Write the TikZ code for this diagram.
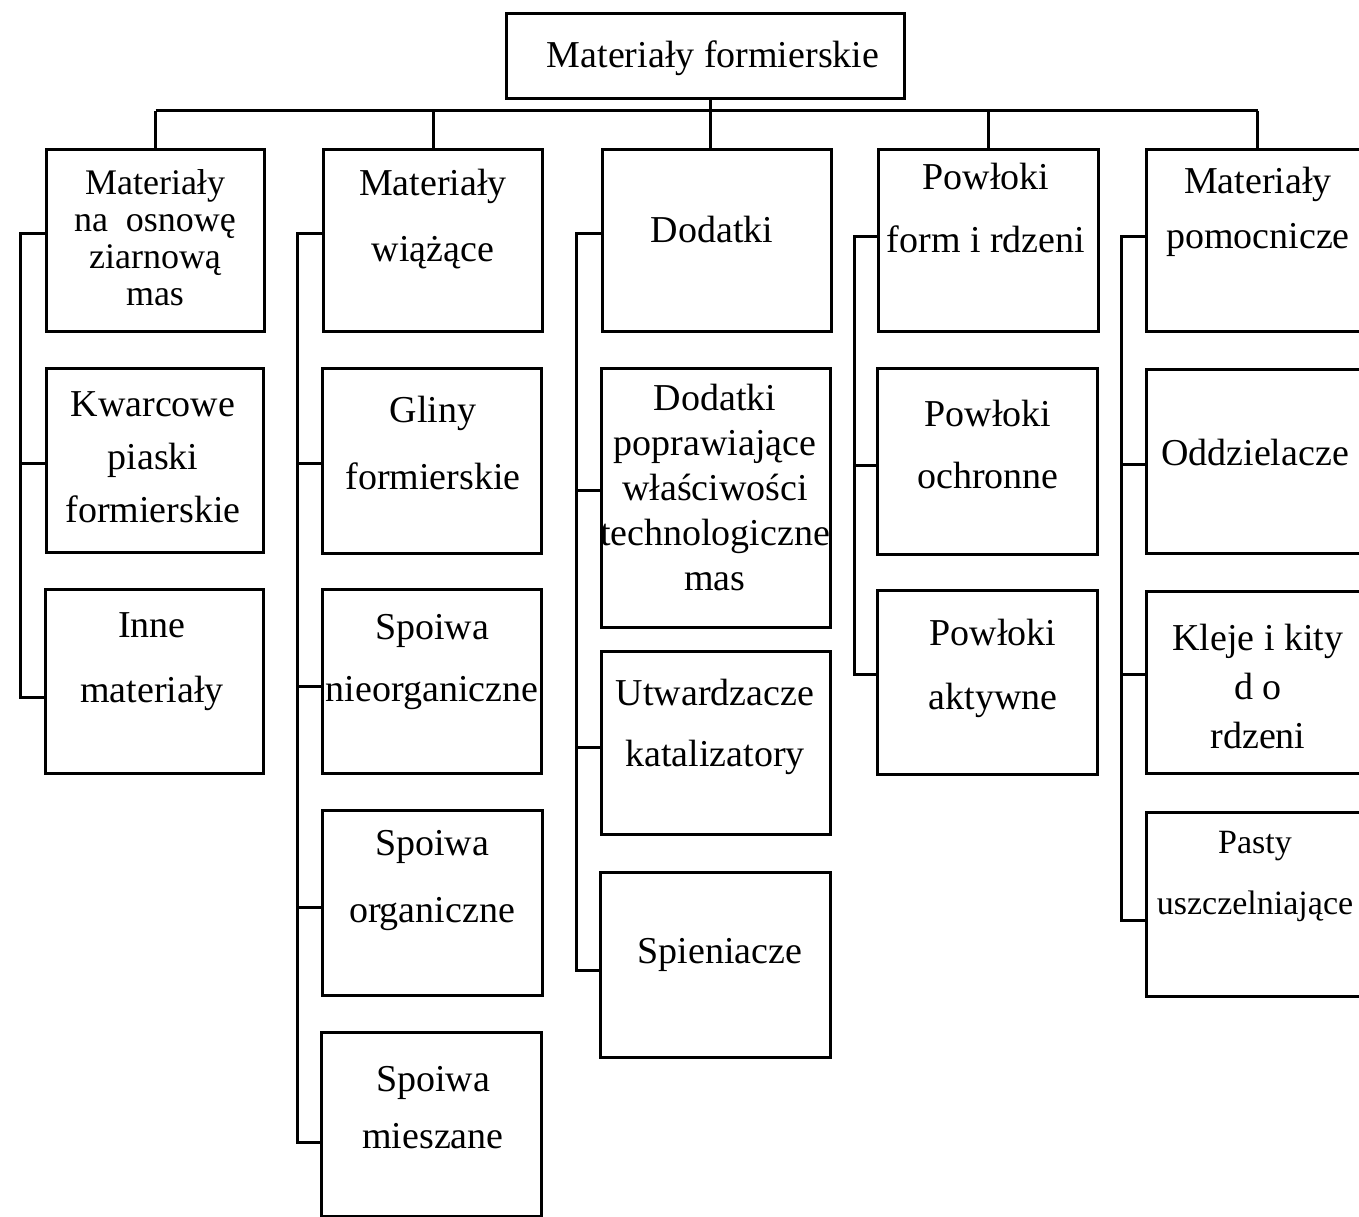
\documentclass[tikz,border=0pt]{standalone}
\usepackage{fontspec}
\setmainfont{Liberation Serif}
\begin{document}
\begin{tikzpicture}[x=1pt,y=-1pt,
  box/.style={draw, line width=3pt, rectangle, anchor=north west, inner sep=0pt},
  conn/.style={line width=3pt},
  lbl/.style={align=center, inner sep=0pt, font=\fontsize{38}{46}\selectfont}]
\useasboundingbox (0,0) rectangle (1359,1217);
\clip (0,0) rectangle (1359,1217);
% boxes
\node[box, minimum width=398pt, minimum height=85pt] (T) at (505,12) {};
\node[box, minimum width=218pt, minimum height=182pt] (A0) at (45,148) {};
\node[box, minimum width=217pt, minimum height=184pt] (A1) at (45,367) {};
\node[box, minimum width=218pt, minimum height=184pt] (A2) at (44,588) {};
\node[box, minimum width=219pt, minimum height=182pt] (B0) at (322,148) {};
\node[box, minimum width=219pt, minimum height=185pt] (B1) at (321,367) {};
\node[box, minimum width=219pt, minimum height=184pt] (B2) at (321,588) {};
\node[box, minimum width=220pt, minimum height=185pt] (B3) at (321,809) {};
\node[box, minimum width=220pt, minimum height=184pt] (B4) at (320,1031) {};
\node[box, minimum width=229pt, minimum height=182pt] (C0) at (601,148) {};
\node[box, minimum width=229pt, minimum height=259pt] (C1) at (600,367) {};
\node[box, minimum width=229pt, minimum height=183pt] (C2) at (600,650) {};
\node[box, minimum width=230pt, minimum height=185pt] (C3) at (599,871) {};
\node[box, minimum width=220pt, minimum height=182pt] (D0) at (877,148) {};
\node[box, minimum width=220pt, minimum height=186pt] (D1) at (876,367) {};
\node[box, minimum width=220pt, minimum height=184pt] (D2) at (876,589) {};
\node[box, minimum width=222pt, minimum height=182pt] (E0) at (1145,148) {};
\node[box, minimum width=222pt, minimum height=184pt] (E1) at (1145,368) {};
\node[box, minimum width=222pt, minimum height=182pt] (E2) at (1145,590) {};
\node[box, minimum width=222pt, minimum height=184pt] (E3) at (1145,811) {};
% texts
\node[lbl] (tT) at (713,58) {Materiały formierskie};
\node[lbl, font=\fontsize{36}{37}\selectfont] (tA0) at (155,238) {Materiały\\na~ osnowę\\ziarnową\\mas};
\node[lbl, font=\fontsize{38}{53}\selectfont] (tA1) at (153,457) {Kwarcowe\\piaski\\formierskie};
\node[lbl, font=\fontsize{38}{65}\selectfont] (tA2) at (152,662) {Inne\\materiały};
\node[lbl, font=\fontsize{38}{66}\selectfont] (tB0) at (433,219) {Materiały\\wiążące};
\node[lbl, font=\fontsize{38}{67}\selectfont] (tB1) at (433,443) {Gliny\\formierskie};
\node[lbl, font=\fontsize{38}{62}\selectfont] (tB2) at (432,662) {Spoiwa\\nieorganiczne};
\node[lbl, font=\fontsize{38}{67}\selectfont] (tB3) at (432,881) {Spoiwa\\organiczne};
\node[lbl, font=\fontsize{38}{57}\selectfont] (tB4) at (433,1108) {Spoiwa\\mieszane};
\node[lbl] (tC0) at (712,230) {Dodatki};
\node[lbl, font=\fontsize{38}{45}\selectfont] (tC1) at (715,487) {Dodatki\\poprawiające\\właściwości\\technologiczne\\mas};
\node[lbl, font=\fontsize{38}{61}\selectfont] (tC2) at (715,727) {Utwardzacze\\katalizatory};
\node[lbl] (tC3) at (720,955) {Spieniacze};
\node[lbl, font=\fontsize{38}{63}\selectfont] (tD0) at (986,208) {Powłoki\\form i rdzeni};
\node[lbl, font=\fontsize{38}{62}\selectfont] (tD1) at (988,444) {Powłoki\\ochronne};
\node[lbl, font=\fontsize{38}{64}\selectfont] (tD2) at (993,668) {Powłoki\\aktywne};
\node[lbl, font=\fontsize{38}{55}\selectfont] (tE0) at (1258,212) {Materiały\\pomocnicze};
\node[lbl] (tE1) at (1255,452) {Oddzielacze};
\node[lbl, font=\fontsize{38}{49}\selectfont] (tE2) at (1258,686) {Kleje i kity\\d o\\rdzeni};
\node[lbl, font=\fontsize{34}{61}\selectfont] (tE3) at (1255,876) {Pasty\\uszczelniające};
% top-level connectors
\coordinate (bus) at (0,111);
\draw[conn] (A0.north |- bus) -- (E0.north |- bus);
\draw[conn] ([xshift=5pt]T.south) -- ([xshift=5pt]T.south |- C0.north);
\foreach \n in {A0,B0,D0,E0} \draw[conn] (\n.north |- bus) -- (\n.north);
% column A spine
\coordinate (a1) at (20,233); \coordinate (a2) at (20,463); \coordinate (a3) at (20,697);
\draw[conn] (A0.west |- a1) -- (a1) -- (a3) -- (A2.west |- a3);
\draw[conn] (a2) -- (A1.west |- a2);
% column B spine
\coordinate (b1) at (297,233); \coordinate (b2) at (297,463); \coordinate (b3) at (297,686);
\coordinate (b4) at (297,907); \coordinate (b5) at (297,1142);
\draw[conn] (B0.west |- b1) -- (b1) -- (b5) -- (B4.west |- b5);
\draw[conn] (b2) -- (B1.west |- b2);
\draw[conn] (b3) -- (B2.west |- b3);
\draw[conn] (b4) -- (B3.west |- b4);
% column C spine
\coordinate (c1) at (576,233); \coordinate (c2) at (576,490); \coordinate (c3) at (576,747); \coordinate (c4) at (576,970);
\draw[conn] (C0.west |- c1) -- (c1) -- (c4) -- (C3.west |- c4);
\draw[conn] (c2) -- (C1.west |- c2);
\draw[conn] (c3) -- (C2.west |- c3);
% column D spine
\coordinate (d1) at (854,236); \coordinate (d2) at (854,465); \coordinate (d3) at (854,674);
\draw[conn] (D0.west |- d1) -- (d1) -- (d3) -- (D2.west |- d3);
\draw[conn] (d2) -- (D1.west |- d2);
% column E spine
\coordinate (e1) at (1121,236); \coordinate (e2) at (1121,464); \coordinate (e3) at (1121,674); \coordinate (e4) at (1121,920);
\draw[conn] (E0.west |- e1) -- (e1) -- (e4) -- (E3.west |- e4);
\draw[conn] (e2) -- (E1.west |- e2);
\draw[conn] (e3) -- (E2.west |- e3);
\end{tikzpicture}
\end{document}
